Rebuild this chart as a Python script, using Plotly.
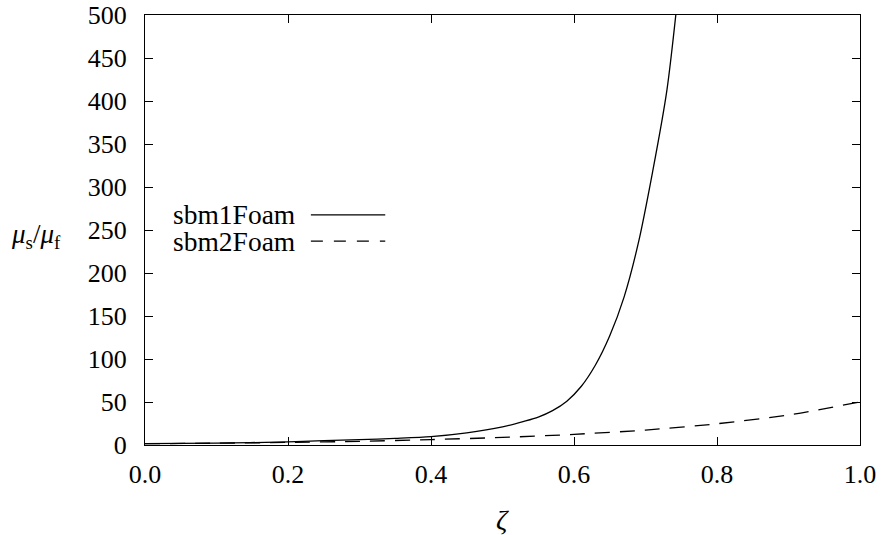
import plotly.graph_objects as go

# data
zeta_sbm1 = [0.0, 0.1, 0.2, 0.25, 0.3, 0.35, 0.4, 0.45, 0.5, 0.53, 0.55, 0.57, 0.59, 0.61, 0.63, 0.65, 0.67, 0.69, 0.71, 0.73, 0.75]
mu_sbm1 = [1.5, 2.2, 3.6, 5.0, 6.2, 7.7, 9.7, 14.0, 21.0, 27.5, 32.5, 40.0, 51.0, 68.0, 93.0, 127.0, 172.0, 235.0, 318.0, 413.0, 560.0]

zeta_sbm2 = [0.0, 0.1, 0.2, 0.3, 0.4, 0.5, 0.6, 0.7, 0.8, 0.9, 1.0]
mu_sbm2 = [1.5, 2.1, 3.0, 4.3, 6.3, 8.8, 12.4, 17.4, 24.7, 35.0, 50.0]

x_ticks = [0.0, 0.2, 0.4, 0.6, 0.8, 1.0]
x_tick_labels = ["0.0", "0.2", "0.4", "0.6", "0.8", "1.0"]
y_ticks = [0, 50, 100, 150, 200, 250, 300, 350, 400, 450, 500]

series_names = ["sbm1Foam", "sbm2Foam"]

FONT = "Liberation Serif, Times New Roman, serif"
FS = 26

fig = go.Figure()
fig.add_trace(go.Scatter(x=zeta_sbm1, y=mu_sbm1, mode="lines", name=series_names[0],
                         line=dict(color="black", width=1.3, shape="spline", smoothing=0.8),
                         showlegend=False))
fig.add_trace(go.Scatter(x=zeta_sbm2, y=mu_sbm2, mode="lines", name=series_names[1],
                         line=dict(color="black", width=1.3, dash="15px,10px", shape="spline", smoothing=0.8),
                         showlegend=False))

axis_common = dict(showline=True, linecolor="black", linewidth=1.2, mirror="allticks",
                   ticks="inside", ticklen=8, tickwidth=1, tickcolor="black",
                   showgrid=False, zeroline=False, automargin=False,
                   tickfont=dict(family=FONT, size=FS, color="black"))

fig.update_xaxes(range=[0, 1], tickvals=x_ticks, ticktext=x_tick_labels,
                 ticklabelstandoff=6, **axis_common)
fig.update_yaxes(range=[0, 500], tickvals=y_ticks, ticklabelstandoff=12, **axis_common)

# axis titles
fig.add_annotation(xref="paper", yref="paper", x=0.5, y=-0.174, yanchor="middle",
                   text="<i>ζ</i>", showarrow=False, font=dict(family=FONT, size=FS + 2, color="black"))
fig.add_annotation(xref="paper", yref="paper", x=-0.152, y=0.485, xanchor="center", yanchor="middle",
                   text="<i>μ</i><sub>s</sub>/<i>μ</i><sub>f</sub>", showarrow=False,
                   font=dict(family=FONT, size=FS + 1, color="black"))

# gnuplot-style key: text then sample
key_y = [0.535, 0.474]
key_dash = ["solid", "12px,11px"]
for name, ky, dsh in zip(series_names, key_y, key_dash):
    fig.add_annotation(xref="paper", yref="paper", x=0.212, y=ky, xanchor="right", yanchor="middle",
                       text=name, showarrow=False, font=dict(family=FONT, size=27.5, color="black"))
    fig.add_shape(type="line", xref="paper", yref="paper", x0=0.232, x1=0.336, y0=ky, y1=ky,
                  line=dict(color="black", width=1.3, dash=dsh))

fig.update_layout(width=882, height=535, margin=dict(l=145, r=22, t=15, b=90),
                  paper_bgcolor="white", plot_bgcolor="white",
                  font=dict(family=FONT, size=FS, color="black"))

fig.write_html("out.html")
